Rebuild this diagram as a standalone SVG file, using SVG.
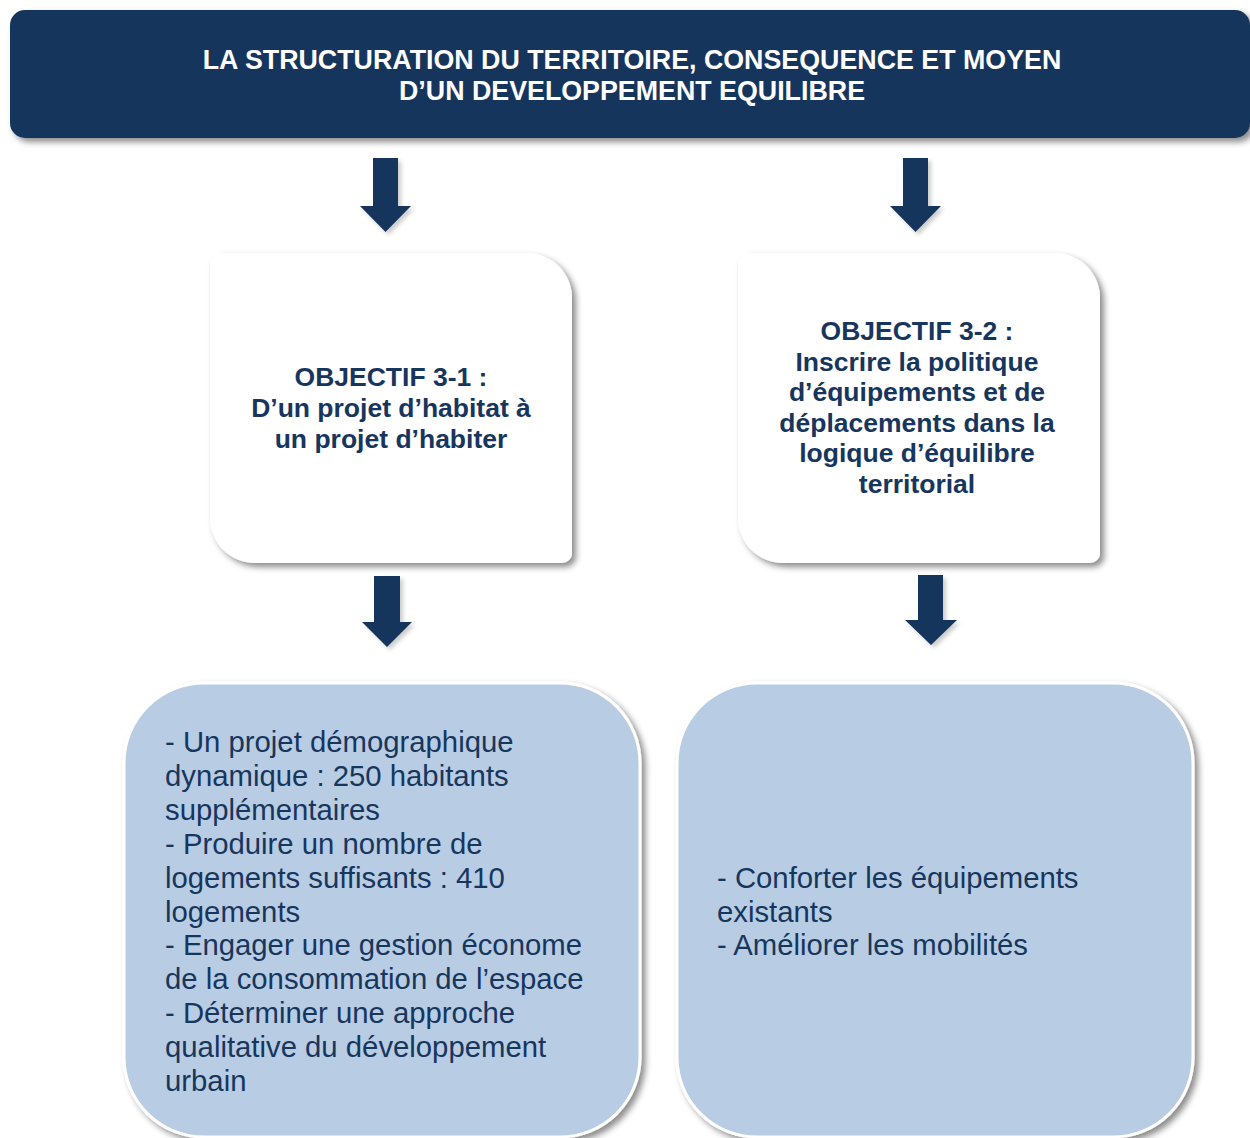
<svg xmlns="http://www.w3.org/2000/svg" width="1250" height="1138" viewBox="0 0 1250 1138">
<style>
.title{font-family:"Liberation Sans",Arial,sans-serif;font-weight:bold;font-size:26.8px;fill:#ffffff;text-anchor:middle}
.obj{font-family:"Liberation Sans",Arial,sans-serif;font-weight:bold;font-size:26.5px;fill:#17365D;text-anchor:middle}
.item{font-family:"Liberation Sans",Arial,sans-serif;font-size:29.3px;fill:#17365D}
.arrow{fill:#17365D;filter:url(#ashadow)}
.white{fill:#ffffff;filter:url(#shadow)}
.blue{fill:#B8CCE4;stroke:#ffffff;stroke-width:3;filter:url(#shadow)}
</style>
<defs>
<filter id="shadow" x="-10%" y="-10%" width="125%" height="125%">
<feDropShadow dx="4" dy="4" stdDeviation="3" flood-color="#000" flood-opacity="0.45"/>
</filter>
<filter id="ashadow" x="-20%" y="-20%" width="150%" height="150%">
<feDropShadow dx="3" dy="3" stdDeviation="2" flood-color="#000" flood-opacity="0.2"/>
</filter>
</defs>
<rect width="1250" height="1138" fill="#ffffff"/>

<g id="title">
<rect x="10" y="10" width="1240" height="128" rx="15" ry="15" fill="#17365D" filter="url(#shadow)"/>
<text class="title" x="632" y="69">LA STRUCTURATION DU TERRITOIRE, CONSEQUENCE ET MOYEN</text>
<text class="title" x="632" y="100">D’UN DEVELOPPEMENT EQUILIBRE</text>
</g>

<g id="objectif31">
<path class="white" d="M 220 253 H 527 A 45 45 0 0 1 572 298 V 553 A 10 10 0 0 1 562 563 H 255 A 45 45 0 0 1 210 518 V 263 A 10 10 0 0 1 220 253 Z"/>
<text class="obj" x="391" y="386">OBJECTIF 3-1 :</text>
<text class="obj" x="391" y="417">D’un projet d’habitat à</text>
<text class="obj" x="391" y="448">un projet d’habiter</text>
</g>

<g id="objectif32">
<path class="white" d="M 748 253 H 1055 A 45 45 0 0 1 1100 298 V 553 A 10 10 0 0 1 1090 563 H 783 A 45 45 0 0 1 738 518 V 263 A 10 10 0 0 1 748 253 Z"/>
<text class="obj" x="917" y="340">OBJECTIF 3-2 :</text>
<text class="obj" x="917" y="371">Inscrire la politique</text>
<text class="obj" x="917" y="401">d’équipements et de</text>
<text class="obj" x="917" y="432">déplacements dans la</text>
<text class="obj" x="917" y="462">logique d’équilibre</text>
<text class="obj" x="917" y="493">territorial</text>
</g>

<g id="actions31">
<rect class="blue" x="124" y="683" width="516" height="454" rx="80" ry="80"/>
<text class="item" x="165" y="752">- Un projet démographique</text>
<text class="item" x="165" y="786">dynamique : 250 habitants</text>
<text class="item" x="165" y="820">supplémentaires</text>
<text class="item" x="165" y="854">- Produire un nombre de</text>
<text class="item" x="165" y="888">logements suffisants : 410</text>
<text class="item" x="165" y="922">logements</text>
<text class="item" x="165" y="955">- Engager une gestion économe</text>
<text class="item" x="165" y="989">de la consommation de l’espace</text>
<text class="item" x="165" y="1023">- Déterminer une approche</text>
<text class="item" x="165" y="1057">qualitative du développement</text>
<text class="item" x="165" y="1091">urbain</text>
</g>

<g id="actions32">
<rect class="blue" x="677" y="683" width="516" height="454" rx="80" ry="80"/>
<text class="item" x="717" y="888">- Conforter les équipements</text>
<text class="item" x="717" y="922">existants</text>
<text class="item" x="717" y="955">- Améliorer les mobilités</text>
</g>

<g id="connectors">
<polygon class="arrow" points="373,158 398,158 398,206 411,206 385.5,232 360,206 373,206"/>
<polygon class="arrow" points="903,158 928,158 928,206 941,206 915.5,232 890,206 903,206"/>
<polygon class="arrow" points="374,576 400,576 400,622 412,622 387,647 362,622 374,622"/>
<polygon class="arrow" points="918,575 943,575 943,620 957,620 931,645 905,620 918,620"/>
</g>
</svg>
